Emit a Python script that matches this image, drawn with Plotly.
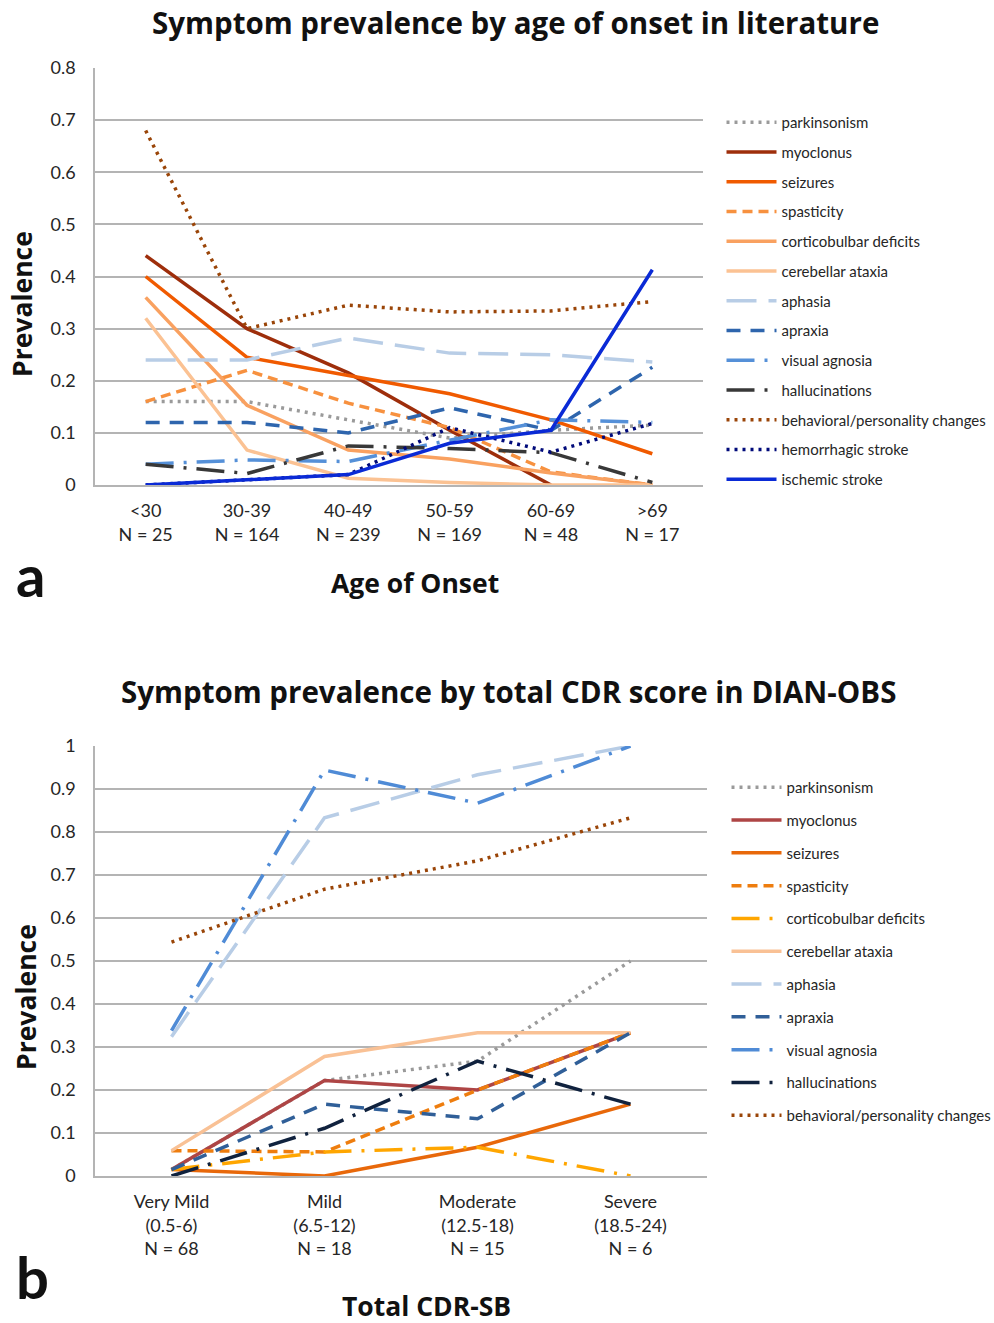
import plotly.graph_objects as go

# ---------------- Data: panel a (literature, by age of onset) ----------------
age_groups = ["<30", "30-39", "40-49", "50-59", "60-69", ">69"]
age_n = [25, 164, 239, 169, 48, 17]

lit_parkinsonism = [0.16, 0.16, 0.125, 0.09, 0.105, 0.115]
lit_myoclonus = [0.44, 0.30, 0.215, 0.105, 0.0, None]
lit_seizures = [0.40, 0.245, 0.21, 0.175, 0.125, 0.06]
lit_spasticity = [0.16, 0.22, 0.157, 0.11, 0.025, 0.0]
lit_corticobulbar = [0.36, 0.153, 0.067, 0.05, 0.023, 0.0]
lit_cerebellar = [0.32, 0.067, 0.013, 0.005, 0.0, 0.0]
lit_aphasia = [0.24, 0.24, 0.282, 0.253, 0.25, 0.236]
lit_apraxia = [0.12, 0.12, 0.10, 0.148, 0.105, 0.226]
lit_visual_agnosia = [0.04, 0.048, 0.045, 0.086, 0.125, 0.12]
lit_hallucinations = [0.04, 0.022, 0.075, 0.07, 0.062, 0.005]
lit_behavioral = [0.68, 0.30, 0.345, 0.332, 0.334, 0.352]
lit_hemorrhagic = [0.0, 0.01, 0.02, 0.11, 0.063, 0.118]
lit_ischemic = [0.0, 0.01, 0.02, 0.08, 0.105, 0.413]

# ---------------- Data: panel b (DIAN-OBS, by total CDR-SB) ----------------
cdr_groups = ["Very Mild", "Mild", "Moderate", "Severe"]
cdr_ranges = ["(0.5-6)", "(6.5-12)", "(12.5-18)", "(18.5-24)"]
cdr_n = [68, 18, 15, 6]

dian_parkinsonism = [0.015, 0.222, 0.267, 0.5]
dian_myoclonus = [0.015, 0.222, 0.2, 0.333]
dian_seizures = [0.015, 0.0, 0.067, 0.167]
dian_spasticity = [0.059, 0.056, 0.2, 0.333]
dian_corticobulbar = [0.015, 0.056, 0.067, 0.0]
dian_cerebellar = [0.059, 0.278, 0.333, 0.333]
dian_aphasia = [0.324, 0.833, 0.933, 1.0]
dian_apraxia = [0.015, 0.167, 0.133, 0.333]
dian_visual_agnosia = [0.338, 0.944, 0.867, 1.0]
dian_hallucinations = [0.0, 0.111, 0.267, 0.167]
dian_behavioral = [0.544, 0.667, 0.733, 0.833]

# ---------------- Styles ----------------
DOT = "3px,5px"
DASH = "14px,10px"
SHORTDASH = "10px,6px"
LONGDASH = "30px,12px"
LONGDASHDOT = "28px,10px,3px,10px"
LW = 3.5

top_series = [
    ("parkinsonism", lit_parkinsonism, "#9a9a9a", DOT),
    ("myoclonus", lit_myoclonus, "#9e2e0b", "solid"),
    ("seizures", lit_seizures, "#f05a00", "solid"),
    ("spasticity", lit_spasticity, "#f7913f", SHORTDASH),
    ("corticobulbar deficits", lit_corticobulbar, "#f9a160", "solid"),
    ("cerebellar ataxia", lit_cerebellar, "#fbc293", "solid"),
    ("aphasia", lit_aphasia, "#b8cde6", LONGDASH),
    ("apraxia", lit_apraxia, "#2e65ad", DASH),
    ("visual agnosia", lit_visual_agnosia, "#5590d8", LONGDASHDOT),
    ("hallucinations", lit_hallucinations, "#383838", LONGDASHDOT),
    ("behavioral/personality changes", lit_behavioral, "#9a4508", DOT),
    ("hemorrhagic stroke", lit_hemorrhagic, "#000a7a", DOT),
    ("ischemic stroke", lit_ischemic, "#0a2ad6", "solid"),
]

bottom_series = [
    ("parkinsonism", dian_parkinsonism, "#9a9a9a", DOT),
    ("myoclonus", dian_myoclonus, "#ae4545", "solid"),
    ("seizures", dian_seizures, "#e8680a", "solid"),
    ("spasticity", dian_spasticity, "#ee7d0e", SHORTDASH),
    ("corticobulbar deficits", dian_corticobulbar, "#ffa600", LONGDASHDOT),
    ("cerebellar ataxia", dian_cerebellar, "#f9c195", "solid"),
    ("aphasia", dian_aphasia, "#b8cde6", LONGDASH),
    ("apraxia", dian_apraxia, "#305f98", DASH),
    ("visual agnosia", dian_visual_agnosia, "#4f8bd6", LONGDASHDOT),
    ("hallucinations", dian_hallucinations, "#10223e", LONGDASHDOT),
    ("behavioral/personality changes", dian_behavioral, "#9a4508", DOT),
]

FONT = "Lato"
TFONT = "Open Sans"
W, H = 994, 1323


def px_x(p):
    return p / W


def px_y(p):
    return 1 - p / H


fig = go.Figure()

for i, (name, vals, color, dash) in enumerate(top_series):
    fig.add_trace(go.Scatter(
        x=age_groups, y=vals, mode="lines", name=name,
        line=dict(color=color, width=LW, dash=dash),
        xaxis="x", yaxis="y", legend="legend", legendgroup="a%d" % i,
        connectgaps=False,
    ))

for i, (name, vals, color, dash) in enumerate(bottom_series):
    fig.add_trace(go.Scatter(
        x=cdr_groups, y=vals, mode="lines", name=name,
        line=dict(color=color, width=LW, dash=dash),
        xaxis="x2", yaxis="y2", legend="legend2", legendgroup="b%d" % i,
    ))

age_ticktext = [g.replace("<", "&lt;").replace(">", "&gt;") + "<br>N = %d" % n
                for g, n in zip(age_groups, age_n)]
cdr_ticktext = ["%s<br>%s<br>N = %d" % (g, r, n) for g, r, n in zip(cdr_groups, cdr_ranges, cdr_n)]

GRID = "#b4b4b4"
tickfont = dict(family=FONT, size=18, color="#262626")

axis_common = dict(showgrid=True, gridcolor=GRID, gridwidth=1.6, showline=True,
                   linecolor=GRID, linewidth=1.6, ticks="", zeroline=False,
                   tickfont=tickfont, automargin=False)

fig.update_layout(
    template="none",
    width=W, height=H,
    margin=dict(l=0, r=0, t=0, b=0, pad=0, autoexpand=False),
    paper_bgcolor="white", plot_bgcolor="white",
    font=dict(family=FONT, color="#262626"),
    xaxis=dict(domain=[px_x(95), px_x(703)], anchor="y", type="category",
               range=[-0.5, 5.5], tickvals=age_groups, ticktext=age_ticktext,
               showgrid=False, showline=True, linecolor=GRID, linewidth=1.6,
               ticks="", tickfont=tickfont, ticklabelstandoff=9, automargin=False),
    yaxis=dict(domain=[px_y(485), px_y(68)], anchor="x", range=[0, 0.8],
               dtick=0.1, tick0=0, ticklabelstandoff=14, **axis_common),
    xaxis2=dict(domain=[px_x(95), px_x(707)], anchor="y2", type="category",
                range=[-0.5, 3.5], tickvals=cdr_groups, ticktext=cdr_ticktext,
                showgrid=False, showline=True, linecolor=GRID, linewidth=1.6,
                ticks="", tickfont=tickfont, ticklabelstandoff=9, automargin=False),
    yaxis2=dict(domain=[px_y(1176), px_y(746)], anchor="x2", range=[0, 1],
                dtick=0.1, tick0=0, ticklabelstandoff=14, **axis_common),
    legend=dict(x=px_x(721.5), y=px_y(106), xanchor="left", yanchor="top",
                font=dict(family=FONT, size=15, color="#262626"),
                tracegroupgap=7.25, itemwidth=50, bgcolor="rgba(0,0,0,0)",
                borderwidth=0),
    legend2=dict(x=px_x(726.5), y=px_y(771), xanchor="left", yanchor="top",
                 font=dict(family=FONT, size=15, color="#262626"),
                 tracegroupgap=10.3, itemwidth=50, bgcolor="rgba(0,0,0,0)",
                 borderwidth=0),
    showlegend=True,
)

annotations = [
    dict(text="<b>Symptom prevalence by age of onset in literature</b>",
         x=px_x(515), y=px_y(22), font=dict(size=29.5, family=TFONT)),
    dict(text="<b>Symptom prevalence by total CDR score in DIAN-OBS</b>",
         x=px_x(508), y=px_y(691), font=dict(size=29.5, family=TFONT)),
    dict(text="<b>Prevalence</b>", x=px_x(22), y=px_y(304), textangle=-90,
         font=dict(size=26.5, family=TFONT)),
    dict(text="<b>Prevalence</b>", x=px_x(26), y=px_y(997), textangle=-90,
         font=dict(size=26.5, family=TFONT)),
    dict(text="<b>Age of Onset</b>", x=px_x(415), y=px_y(583), font=dict(size=26.5, family=TFONT)),
    dict(text="<b>Total CDR-SB</b>", x=px_x(426), y=px_y(1306), font=dict(size=26.5, family=TFONT)),
    dict(text="<b>a</b>", x=px_x(30), y=px_y(574), font=dict(size=58, family=FONT)),
    dict(text="<b>b</b>", x=px_x(32), y=px_y(1276), font=dict(size=58, family=FONT)),
]
for a in annotations:
    a.update(xref="paper", yref="paper", showarrow=False, xanchor="center", yanchor="middle")
    a["font"].update(color="#111111")
fig.update_layout(annotations=annotations)

# remove the page's default body margin so the figure sits at the window origin
fig.write_html("out.html", config={"displayModeBar": False},
               post_script="document.body.style.margin='0px';")
